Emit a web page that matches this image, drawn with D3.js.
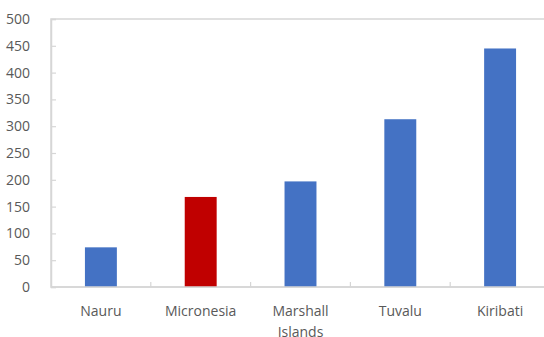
<!DOCTYPE html>
<html>
<head>
<meta charset="utf-8">
<script src="https://cdn.jsdelivr.net/npm/d3@7"></script>
<style>
  html, body { margin: 0; padding: 0; background: #ffffff; }
  svg { display: block; }
  text { font-family: "Open Sans", "Noto Sans", sans-serif; fill: #595959; }
</style>
</head>
<body>
<svg id="chart" width="544" height="337"></svg>
<script>
// Island nations and their values
const categories = ["Nauru", "Micronesia", "Marshall Islands", "Tuvalu", "Kiribati"];
const values = [74, 168, 197, 313, 445];
const highlighted = ["Micronesia"];
const yTicks = [0, 50, 100, 150, 200, 250, 300, 350, 400, 450, 500];

const width = 544, height = 337;
const margin = { top: 19, right: -6, bottom: 50, left: 51 };
const plotW = width - margin.left - margin.right;
const plotH = height - margin.top - margin.bottom;

const svg = d3.select("#chart");
const g = svg.append("g").attr("transform", `translate(${margin.left},${margin.top})`);

const x = d3.scaleBand().domain(categories).range([0, plotW])
  .paddingInner(0.68).paddingOuter(0.34);
const y = d3.scaleLinear().domain([0, 500]).range([plotH, 0]);

const axisColor = "#d6d6d6";

// Plot area frame
g.append("rect")
  .attr("x", 0).attr("y", 0)
  .attr("width", plotW).attr("height", plotH)
  .attr("fill", "none").attr("stroke", axisColor).attr("stroke-width", 1.5);

// Bars
g.selectAll("rect.bar")
  .data(categories)
  .join("rect")
  .attr("class", "bar")
  .attr("x", d => x(d))
  .attr("width", x.bandwidth())
  .attr("y", (d, i) => y(values[i]))
  .attr("height", (d, i) => plotH - y(values[i]))
  .attr("fill", d => highlighted.includes(d) ? "#C00000" : "#4472C4");

// Y axis: inside ticks and labels
const yAxis = g.append("g").call(
  d3.axisLeft(y).tickValues(yTicks).tickSize(-5).tickPadding(21)
);
yAxis.select(".domain").attr("stroke", axisColor).attr("stroke-width", 1.5);
yAxis.selectAll(".tick line").attr("stroke", axisColor).attr("stroke-width", 1.2);
yAxis.selectAll(".tick text")
  .style("font-size", "14px").attr("fill", "#595959");

// X axis baseline with tick marks between categories
const xAxis = g.append("g").attr("transform", `translate(0,${plotH})`);
xAxis.append("line")
  .attr("x1", 0).attr("x2", plotW)
  .attr("stroke", axisColor).attr("stroke-width", 1.5);
const step = x.step();
const boundaries = d3.range(1, categories.length).map(i => x(categories[i]) - step * x.paddingInner() / 2);
xAxis.selectAll("line.sep")
  .data(boundaries)
  .join("line")
  .attr("class", "sep")
  .attr("x1", d => d).attr("x2", d => d)
  .attr("y1", 0).attr("y2", -5)
  .attr("stroke", axisColor).attr("stroke-width", 1.2);

// Category labels, wrapped to the category width
const labels = xAxis.selectAll("text.cat")
  .data(categories)
  .join("text")
  .attr("class", "cat")
  .attr("text-anchor", "middle")
  .attr("x", d => x(d) + x.bandwidth() / 2)
  .attr("y", 29)
  .style("font-size", "14px");

labels.each(function(d) {
  const t = d3.select(this);
  const words = d.split(" ");
  let lines = [], cur = [];
  const probe = t.append("tspan");
  words.forEach(w => {
    const test = cur.concat(w).join(" ");
    probe.text(test);
    if (cur.length && probe.node().getComputedTextLength() > step * 0.95) {
      lines.push(cur.join(" "));
      cur = [w];
    } else {
      cur.push(w);
    }
  });
  lines.push(cur.join(" "));
  probe.remove();
  lines.forEach((line, i) => {
    t.append("tspan")
      .attr("x", x(d) + x.bandwidth() / 2)
      .attr("dy", i === 0 ? 0 : 20.5)
      .text(line);
  });
});
</script>
</body>
</html>
